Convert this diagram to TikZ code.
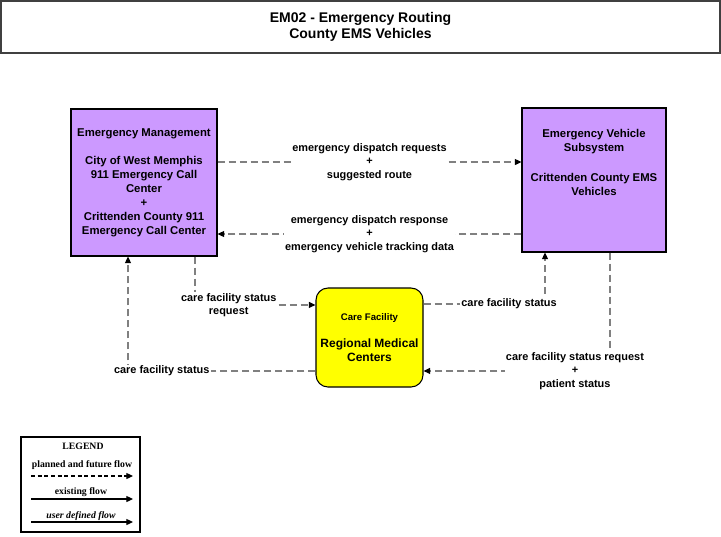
\documentclass[tikz,border=0pt]{standalone}
\usepackage{fontspec}
\setmainfont{Liberation Sans}
\newfontfamily\legendfont{Liberation Serif}
\usetikzlibrary{arrows.meta,positioning}
\definecolor{sysviolet}{HTML}{CC99FF}
\definecolor{careyellow}{HTML}{FFFF00}
\definecolor{flowgrey}{HTML}{808080}
\tikzset{
  title box/.style = {draw=black!75, line width=1pt, align=center,
                      minimum width=539.25pt, minimum height=39pt,
                      font=\fontsize{10.5}{12}\selectfont\bfseries},
  sys text/.style  = {align=center, inner sep=2pt,
                      font=\fontsize{8.5}{10.5}\selectfont\bfseries},
  sys box/.style   = {sys text, draw=black, fill=sysviolet, line width=0.8pt},
  care box/.style  = {draw=black, fill=careyellow, rounded corners=9pt,
                      line width=0.8pt, align=center,
                      minimum width=80.25pt, minimum height=74.25pt,
                      font=\fontsize{9}{10.5}\selectfont\bfseries},
  flow/.style      = {flowgrey, line width=1pt, dash pattern=on 5.25pt off 3pt,
                      -{Triangle[length=5pt,width=4.5pt,color=black]}},
  flow label/.style = {fill=white, align=center, inner sep=1pt, text=black,
                       font=\fontsize{8.2}{10}\selectfont\bfseries},
  legend box/.style = {draw=black, line width=0.8pt,
                       minimum width=89.25pt, minimum height=71.25pt},
  legend text/.style = {inner sep=0pt, font=\legendfont\fontsize{7.3}{8}\selectfont\bfseries},
  legend flow/.style = {black, line width=0.9pt,
                        -{Triangle[length=5pt,width=4.5pt]}},
}

\begin{document}
\begin{tikzpicture}[x=0.75pt, y=-0.75pt]
  \useasboundingbox (0,0) rectangle (721,536);

  % title
  \node[title box] (title) at (360.5,27) {EM02 - Emergency Routing\\County EMS Vehicles};

  % subsystems
  \node[sys box, minimum width=109.5pt, minimum height=110.25pt] (em) at (144,182.5)
    {Emergency Management\\[10.5pt]City of West Memphis\\911 Emergency Call\\Center\\+\\
     Crittenden County 911\\Emergency Call Center};
  \node[sys box, minimum width=108pt, minimum height=108pt,
        label={[sys text, anchor=north, yshift=-14pt]north:{Emergency Vehicle\\Subsystem\\[12pt]Crittenden County EMS\\Vehicles}}]
    (ev) at (594,180) {};
  \node[care box] (cf) at (369.5,337.5)
    {{\fontsize{7.2}{9}\selectfont Care Facility}\\[10pt]Regional Medical\\Centers};

  % flows
  \draw[flow] ([yshift=15.375pt]em.east) -- node[flow label]
    {emergency dispatch requests\\+\\suggested route} ([yshift=13.5pt]ev.west);
  \draw[flow] ([yshift=-40.5pt]ev.west) -- node[flow label]
    {emergency dispatch response\\+\\emergency vehicle tracking data} ([yshift=-38.625pt]em.east);
  \draw[flow] ([xshift=38.25pt]em.south) |- node[flow label, pos=0.64]
    {care facility status\\request} ([yshift=24.4pt]cf.west);
  \draw[flow] ([yshift=-25.1pt]cf.west) -| node[flow label, pos=0.41]
    {care facility status} ([xshift=-12pt]em.south);
  \draw[flow] ([yshift=25.1pt]cf.east) -| node[flow label, pos=0.352]
    {care facility status} ([xshift=-36.75pt]ev.south);
  \draw[flow] ([xshift=12pt]ev.south) |- node[flow label, pos=0.594]
    {care facility status request\\+\\patient status} ([yshift=-25.1pt]cf.east);

  % legend
  \node[legend box] (legend) at (80.5,484.5) {};
  \node[legend text] (leg title) at (83,446) {LEGEND};
  \node[legend text] (leg planned) at (82,465) {planned and future flow};
  \draw[legend flow, dash pattern=on 3pt off 2pt] (31,476) -- (133,476);
  \node[legend text] (leg existing) at (81,492) {existing flow};
  \draw[legend flow] (31,499) -- (133,499);
  \node[legend text, font=\legendfont\fontsize{7.3}{8}\selectfont\bfseries\itshape] (leg user) at (81,516) {user defined flow};
  \draw[legend flow] (31,522) -- (133,522);
\end{tikzpicture}
\end{document}
